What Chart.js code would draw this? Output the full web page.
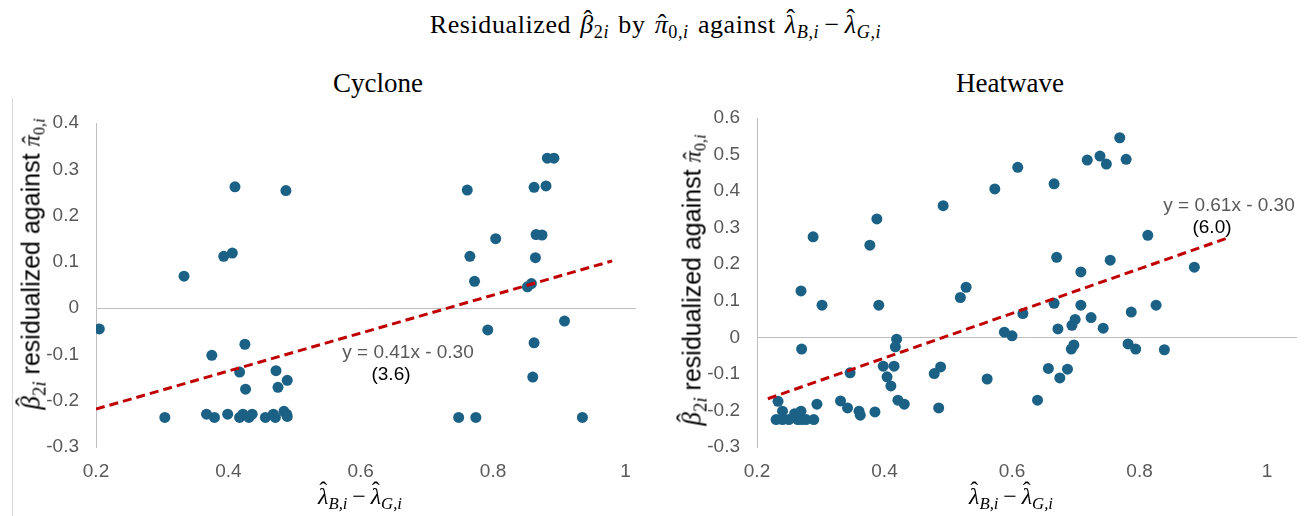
<!DOCTYPE html>
<html><head><meta charset="utf-8">
<script src="https://cdn.jsdelivr.net/npm/chart.js@4/dist/chart.umd.min.js"></script>
<style>
html,body{margin:0;padding:0;background:#fff;}
body{width:1311px;height:516px;position:relative;overflow:hidden;font-family:"Liberation Sans",Arial,sans-serif;}
.serif{font-family:"Liberation Serif","Times New Roman",serif;color:#000;}
#title{position:absolute;left:0;top:10px;width:1311px;text-align:center;font-size:26px;letter-spacing:0.6px;word-spacing:2px;}
.sub{position:absolute;top:68px;font-size:27px;text-align:center;width:300px;}
.box{position:absolute;top:0;height:516px;}
.ylab{position:absolute;white-space:nowrap;transform:translate(-50%,-50%) rotate(-90deg);font-size:25px;color:#000;}
.xlab{position:absolute;white-space:nowrap;transform:translate(-50%,-50%);font-size:24px;}
.m{font-family:"Liberation Serif","Times New Roman",serif;font-style:italic;}
.up{font-style:normal;}
.op{font-style:normal;margin:0 0.2em;}
sub{font-size:70%;vertical-align:-0.3em;line-height:0;}
.hat{position:relative;display:inline-block;}
.hat::before{content:"\02C6";position:absolute;left:0.08em;right:0;text-align:center;top:-0.2em;font-style:normal;}
.hat.low::before{top:-0.04em;}
.hat.tall::before{top:-0.24em;left:0;}
.eq{position:absolute;transform:translate(-50%,-50%);white-space:nowrap;font-size:19px;}
#frame{position:absolute;left:12px;top:98px;width:0;height:418px;border-left:1px solid #d9d9d9;}
</style>
</head>
<body>
<div id="title" class="serif">Residualized <span class="m"><span class="hat">β</span><sub><span class="up">2</span>i</sub></span> by <span class="m"><span class="hat low">π</span><sub><span class="up">0</span>,i</sub></span> against <span class="m"><span class="hat tall">λ</span><sub>B,i</sub></span><span class="op">−</span><span class="m"><span class="hat tall">λ</span><sub>G,i</sub></span></div>
<div class="sub serif" style="left:228px;">Cyclone</div>
<div class="sub serif" style="left:860px;">Heatwave</div>
<div id="frame"></div>
<div class="box" style="left:0;width:655px;"><canvas id="c1" width="655" height="516"></canvas></div>
<div class="box" style="left:655px;width:656px;"><canvas id="c2" width="656" height="516"></canvas></div>

<div class="ylab" style="left:31px;top:264px;"><span class="m" style="font-size:27px"><span class="hat">β</span><sub><span class="up">2</span>i</sub></span> residualized against <span class="m" style="font-size:23px"><span class="hat low">π</span><sub><span class="up">0</span>,i</sub></span></div>
<div class="ylab" style="left:692px;top:280px;"><span class="m" style="font-size:27px"><span class="hat">β</span><sub><span class="up">2</span>i</sub></span> residualized against <span class="m" style="font-size:23px"><span class="hat low">π</span><sub><span class="up">0</span>,i</sub></span></div>

<div class="xlab m" style="left:360px;top:496px;"><span class="hat tall">λ</span><sub>B,i</sub><span class="op">−</span><span class="hat tall">λ</span><sub>G,i</sub></div>
<div class="xlab m" style="left:1011px;top:496px;"><span class="hat tall">λ</span><sub>B,i</sub><span class="op">−</span><span class="hat tall">λ</span><sub>G,i</sub></div>

<div class="eq" style="left:408px;top:352px;color:#595959;">y = 0.41x - 0.30</div>
<div class="eq" style="left:391px;top:374px;color:#000;">(3.6)</div>
<div class="eq" style="left:1229px;top:205px;color:#595959;">y = 0.61x - 0.30</div>
<div class="eq" style="left:1212px;top:227px;color:#000;">(6.0)</div>

<script>
// ---- data ----
const cycloneX = [0.205,0.333,0.393,0.406,0.410,0.487,0.761,0.882,0.892,0.862,0.880,0.804,0.765,0.865,0.874,0.864,0.772,0.858,0.852,0.792,0.908,
  0.425,0.375,0.417,0.472,0.489,0.426,0.475,0.862,0.860,
  0.304,0.367,0.379,0.399,0.417,0.422,0.431,0.436,0.456,0.468,0.471,0.484,0.488,0.489,0.748,0.774,0.935];
const cycloneY = [-0.045,0.069,0.112,0.119,0.262,0.254,0.255,0.324,0.324,0.261,0.264,0.150,0.112,0.159,0.158,0.109,0.058,0.053,0.046,-0.047,-0.028,
  -0.078,-0.102,-0.138,-0.135,-0.156,-0.175,-0.171,-0.075,-0.149,
  -0.236,-0.229,-0.236,-0.229,-0.236,-0.229,-0.236,-0.229,-0.236,-0.229,-0.236,-0.223,-0.229,-0.234,-0.236,-0.236,-0.236];

const heatwaveX = [0.269,0.288,0.302,0.377,0.388,0.391,0.492,0.519,0.528,0.573,0.609,0.666,0.718,0.738,0.748,0.769,0.779,0.813,0.670,0.754,
  0.708,0.886,0.666,0.708,0.617,0.826,0.787,0.724,0.699,0.694,0.743,0.672,0.588,0.600,0.419,0.417,0.233,
  0.230,0.240,0.250,0.264,0.270,0.277,0.289,0.240,0.259,0.269,0.270,0.294,0.331,0.342,0.346,0.360,0.362,0.385,
  0.398,0.404,0.410,0.415,0.421,0.431,0.478,0.488,0.485,0.561,0.640,0.657,0.675,0.687,0.693,0.697,0.782,0.794,0.839];
const heatwaveY = [0.127,0.275,0.088,0.252,0.324,0.088,0.360,0.109,0.137,0.406,0.465,0.420,0.485,0.496,0.474,0.546,0.487,0.279,0.219,0.211,
  0.179,0.192,0.093,0.088,0.065,0.088,0.069,0.054,0.049,0.033,0.025,0.023,0.014,0.004,-0.005,-0.026,-0.175,
  -0.225,-0.225,-0.225,-0.225,-0.225,-0.225,-0.225,-0.202,-0.209,-0.202,-0.032,-0.183,-0.174,-0.193,-0.097,-0.202,-0.213,-0.204,
  -0.079,-0.108,-0.133,-0.079,-0.172,-0.183,-0.099,-0.081,-0.193,-0.114,-0.172,-0.085,-0.111,-0.087,-0.032,-0.021,-0.018,-0.032,-0.034];

const cycloneTrendX = [0.2, 0.98];
const cycloneTrendY = [-0.218, 0.102];
const heatwaveTrendX = [0.217, 0.94];
const heatwaveTrendY = [-0.168, 0.273];

const xTickValues = [0.2, 0.4, 0.6, 0.8, 1];
const xTickLabels = ["0.2", "0.4", "0.6", "0.8", "1"];
const cycloneYTickValues = [-0.3, -0.2, -0.1, 0, 0.1, 0.2, 0.3, 0.4];
const cycloneYTickLabels = ["-0.3", "-0.2", "-0.1", "0", "0.1", "0.2", "0.3", "0.4"];
const heatwaveYTickValues = [-0.3, -0.2, -0.1, 0, 0.1, 0.2, 0.3, 0.4, 0.5, 0.6];
const heatwaveYTickLabels = ["-0.3", "-0.2", "-0.1", "0", "0.1", "0.2", "0.3", "0.4", "0.5", "0.6"];

// ---- chart ----
const POINT_COLOR = '#1b6185';
const TREND_COLOR = '#c00000';
const AXIS_COLOR = '#bfbfbf';
const TICK_FONT = {family: '"Liberation Sans", Arial, sans-serif', size: 19};

function makeChart(id, xs, ys, tx, ty, yTicks, yLabels, xMax, pad, yWidth) {
  const pts = xs.map((x, i) => ({x: x, y: ys[i]}));
  const trend = tx.map((x, i) => ({x: x, y: ty[i]}));
  return new Chart(document.getElementById(id), {
    type: 'scatter',
    data: {
      datasets: [
        {data: trend, showLine: true, borderColor: TREND_COLOR, borderWidth: 3, borderDash: [9, 5],
         pointRadius: 0, fill: false, order: 0},
        {data: pts, backgroundColor: POINT_COLOR, borderColor: POINT_COLOR, pointRadius: 5.5,
         pointBorderWidth: 0, order: 1}
      ]
    },
    options: {
      responsive: false, animation: false,
      layout: {padding: pad},
      plugins: {legend: {display: false}, tooltip: {enabled: false}, title: {display: false}},
      scales: {
        x: {
          type: 'linear', min: 0.2, max: xMax,
          afterBuildTicks: s => { s.ticks = xTickValues.map(v => ({value: v})); },
          afterFit: s => { s.height = 69; },
          grid: {display: false, drawTicks: false},
          border: {display: false},
          ticks: {font: TICK_FONT, color: '#595959', padding: 13, maxRotation: 0,
                  callback: (v, i) => xTickLabels[i]}
        },
        y: {
          type: 'linear', min: yTicks[0], max: yTicks[yTicks.length - 1],
          afterBuildTicks: s => { s.ticks = yTicks.map(v => ({value: v})); },
          afterFit: s => { s.width = yWidth; },
          grid: {drawTicks: false, lineWidth: 1,
                 color: c => (c.tick && Math.abs(c.tick.value) < 1e-9) ? AXIS_COLOR : 'rgba(0,0,0,0)'},
          border: {display: true, color: AXIS_COLOR, width: 1},
          ticks: {font: TICK_FONT, color: '#595959', padding: 17,
                  callback: (v, i) => yLabels[i]}
        }
      }
    }
  });
}

makeChart('c1', cycloneX, cycloneY, cycloneTrendX, cycloneTrendY, cycloneYTickValues, cycloneYTickLabels,
          1.016, {left: 0, top: 123, right: 19, bottom: 0}, 96);
makeChart('c2', heatwaveX, heatwaveY, heatwaveTrendX, heatwaveTrendY, heatwaveYTickValues, heatwaveYTickLabels,
          1.047, {left: 0, top: 118, right: 14, bottom: 0}, 102);
</script>
</body></html>
